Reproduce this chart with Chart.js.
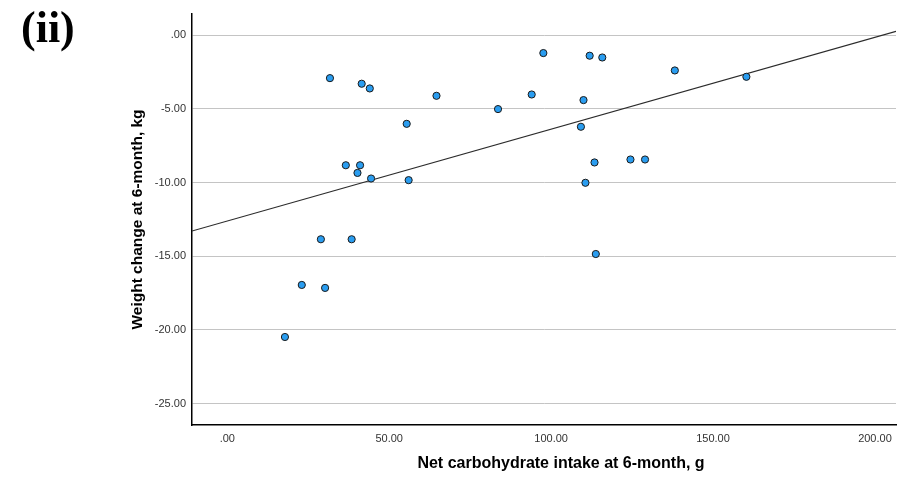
<!DOCTYPE html>
<html>
<head>
<meta charset="utf-8">
<script src="https://cdn.jsdelivr.net/npm/chart.js@4"></script>
<style>
  html, body { margin: 0; padding: 0; background: #fff; }
  #wrap { position: relative; width: 897px; height: 478px; }
  #panel { position: absolute; left: 21px; top: 6px; font-family: "Liberation Serif", serif; font-weight: bold; font-size: 44px; line-height: 1; color: #000; }
</style>
</head>
<body>
<div id="wrap">
  <canvas id="scatterPlot" width="897" height="478"></canvas>
  <div id="panel">(ii)</div>
</div>
<script>
// net carbohydrate intake (g) and weight change (kg) at 6 months
var carbIntake = [31.7, 41.5, 44.0, 64.6, 83.6, 94.0, 97.6, 55.4, 36.6, 41.0,
                  40.2, 44.4, 56.0, 111.9, 115.8, 138.2, 160.3, 110.0, 109.2, 113.4,
                  124.5, 129.0, 110.6, 28.9, 38.4, 23.0, 30.2, 17.8, 113.8];
var weightChange = [-2.92, -3.30, -3.62, -4.12, -5.02, -4.03, -1.22, -6.02, -8.83, -8.83,
                    -9.35, -9.73, -9.84, -1.40, -1.52, -2.40, -2.83, -4.41, -6.22, -8.64,
                    -8.44, -8.44, -10.02, -13.85, -13.85, -16.95, -17.15, -20.48, -14.85];
var xTicks = [0, 50, 100, 150, 200];
var yTicks = [0, -5, -10, -15, -20, -25];
var xMin = -10.9, xMax = 206.5;
var yMin = -26.45, yMax = 1.43;
var xTitle = 'Net carbohydrate intake at 6-month, g';
var yTitle = 'Weight change at 6-month, kg';

function getPoints(xs, ys) {
  var pts = [];
  for (var i = 0; i < xs.length; i++) {
    pts.push({x: xs[i], y: ys[i]});
  }
  return pts;
}

// ordinary least squares fit, returned as the line across the whole x range
function getFitLine(xs, ys, from, to) {
  var n = xs.length, mx = 0, my = 0, sxy = 0, sxx = 0;
  for (var i = 0; i < n; i++) { mx += xs[i]; my += ys[i]; }
  mx /= n; my /= n;
  for (var j = 0; j < n; j++) {
    sxy += (xs[j] - mx) * (ys[j] - my);
    sxx += (xs[j] - mx) * (xs[j] - mx);
  }
  var slope = sxy / sxx;
  var icpt = my - slope * mx;
  return [{x: from, y: icpt + slope * from}, {x: to, y: icpt + slope * to}];
}

function fixedTicks(values) {
  return function(scale) {
    scale.ticks = values.map(function(v) { return {value: v}; });
  };
}

function decimalLabel(v) {
  return v === 0 ? '.00' : v.toFixed(2);
}

var tickFont = {family: "'Liberation Sans', Arial, sans-serif", size: 11};
var yTitleFont = {family: "'Liberation Sans', Arial, sans-serif", size: 15.5, weight: 'bold'};

// x axis title sits a little right of the axis centre, so it is drawn by hand
var xTitlePlugin = {
  id: 'xTitle',
  afterDraw: function(chart) {
    var c = chart.ctx;
    var area = chart.chartArea;
    c.save();
    c.font = "bold 16px 'Liberation Sans', Arial, sans-serif";
    c.fillStyle = '#000';
    c.textAlign = 'center';
    c.textBaseline = 'middle';
    c.fillText(xTitle, (area.left + area.right) / 2 + 17, 464);
    c.restore();
  }
};

var ctx = document.getElementById('scatterPlot');
var chart = new Chart(ctx, {
  type: 'scatter',
  data: {
    datasets: [
      {
        type: 'line',
        data: getFitLine(carbIntake, weightChange, xMin, xMax),
        borderColor: '#2b2b2b',
        borderWidth: 1.2,
        pointRadius: 0,
        fill: false,
        order: 2
      },
      {
        data: getPoints(carbIntake, weightChange),
        backgroundColor: '#2a9df0',
        borderColor: '#1a1a1a',
        borderWidth: 1,
        pointRadius: 3.6,
        order: 1
      }
    ]
  },
  plugins: [xTitlePlugin],
  options: {
    responsive: false,
    animation: false,
    layout: {autoPadding: false, padding: {top: 14, right: 1, left: 0, bottom: 0}},
    plugins: {legend: {display: false}, tooltip: {enabled: false}},
    scales: {
      x: {
        type: 'linear',
        min: xMin, max: xMax,
        afterBuildTicks: fixedTicks(xTicks),
        afterFit: function(scale) {
          scale.height = 53;
          scale.paddingLeft = 0;
          scale.paddingRight = 0;
        },
        grid: {display: false, drawTicks: false},
        border: {display: true, color: '#000', width: 1.5},
        ticks: {font: tickFont, color: '#333', padding: 7, maxRotation: 0, callback: decimalLabel}
      },
      y: {
        type: 'linear',
        min: yMin, max: yMax,
        afterBuildTicks: fixedTicks(yTicks),
        afterFit: function(scale) {
          scale.width = 192;
          scale.paddingTop = 0;
          scale.paddingBottom = 0;
        },
        grid: {color: '#c4c4c4', lineWidth: 1, drawTicks: false},
        border: {display: true, color: '#000', width: 1.5},
        ticks: {font: tickFont, color: '#333', padding: 6, callback: decimalLabel},
        title: {display: true, text: yTitle, font: yTitleFont, color: '#000', padding: {top: 128, bottom: 0}}
      }
    }
  }
});
</script>
</body>
</html>
